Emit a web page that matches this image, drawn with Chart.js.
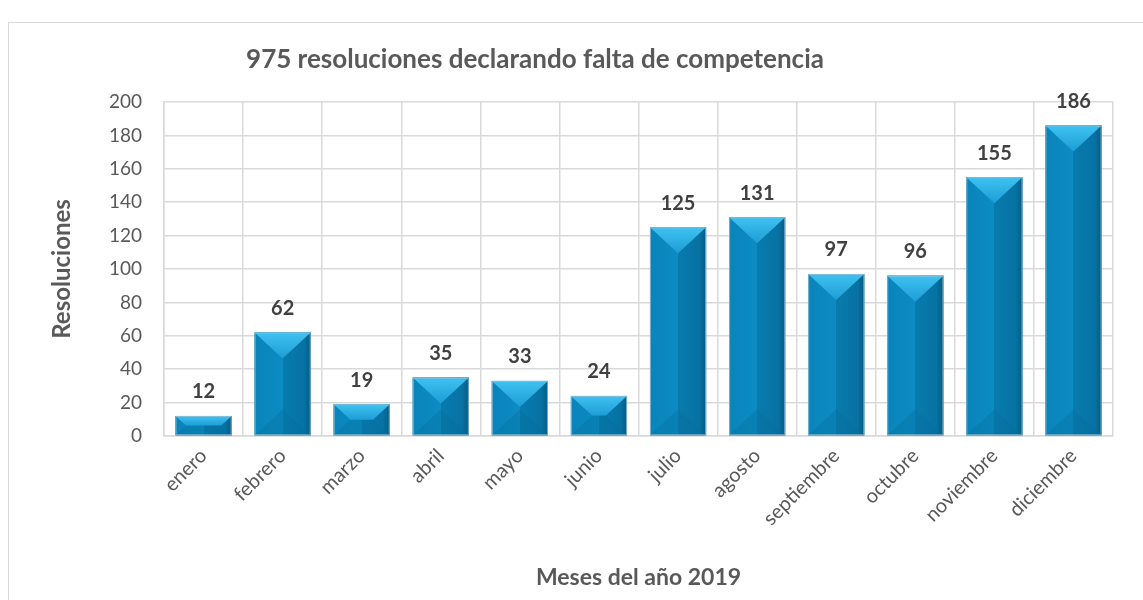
<!DOCTYPE html>
<html>
<head>
<meta charset="utf-8">
<script src="https://cdn.jsdelivr.net/npm/chart.js@4/dist/chart.umd.min.js"></script>
<style>
  html, body { margin: 0; padding: 0; background: #fff; overflow: hidden; }
  #frame { position: absolute; left: 8px; top: 22px; width: 1200px; height: 700px; border: 1px solid #d9d9d9; box-sizing: border-box; }
  #wrap { position: absolute; left: 0; top: 0; width: 1143px; height: 600px; }
</style>
</head>
<body>
<div id="frame"></div>
<div id="wrap"><canvas id="resoluciones"></canvas></div>
<script>
const meses = ['enero', 'febrero', 'marzo', 'abril', 'mayo', 'junio', 'julio', 'agosto', 'septiembre', 'octubre', 'noviembre', 'diciembre'];
const resoluciones = [12, 62, 19, 35, 33, 24, 125, 131, 97, 96, 155, 186];
const tituloGrafico = '975 resoluciones declarando falta de competencia';
const tituloX = 'Meses del año 2019';
const tituloY = 'Resoluciones';

const FONT = 'Lato, "Open Sans", sans-serif';
const GRAY = '#595959';
const GRID = '#d9d9d9';

// bevelled look for each bar, drawn on top of the plain bar
const bevelBars = {
    id: 'bevelBars',
    afterDatasetsDraw(chart) {
        const ctx = chart.ctx;
        chart.getDatasetMeta(0).data.forEach((bar) => {
            const p = bar.getProps(['x', 'y', 'base', 'width'], true);
            const L = p.x - p.width / 2, R = p.x + p.width / 2;
            const T = p.y, B = p.base;
            const h = B - T, w = R - L;
            const d = Math.min(26, h / 2);
            const dx = Math.min(w / 2, d * (w / 2) / 26);
            ctx.save();

            // left and right faces
            let g = ctx.createLinearGradient(L, 0, R, 0);
            g.addColorStop(0, '#0a84ba');
            g.addColorStop(0.5, '#0b8cc3');
            g.addColorStop(0.5, '#087bae');
            g.addColorStop(0.88, '#0772a3');
            g.addColorStop(1, '#055c83');
            ctx.fillStyle = g;
            ctx.fillRect(L, T, w, h);

            // bottom face
            ctx.beginPath();
            ctx.moveTo(L, B); ctx.lineTo(R, B);
            ctx.lineTo(R - dx, B - d); ctx.lineTo(L + dx, B - d);
            ctx.closePath();
            ctx.fillStyle = 'rgba(6, 110, 155, 0.35)';
            ctx.fill();

            // top face
            ctx.beginPath();
            ctx.moveTo(L, T); ctx.lineTo(R, T);
            ctx.lineTo(R - dx, T + d); ctx.lineTo(L + dx, T + d);
            ctx.closePath();
            g = ctx.createLinearGradient(0, T, 0, T + d);
            g.addColorStop(0, '#3fc2f2');
            g.addColorStop(1, '#1d9dd5');
            ctx.fillStyle = g;
            ctx.fill();

            ctx.strokeStyle = 'rgba(150, 190, 210, 0.8)';
            ctx.lineWidth = 1;
            ctx.strokeRect(L + 0.5, T + 0.5, w - 1, h - 1);
            ctx.restore();
        });
    }
};

// value labels and chart title
const labelsAndTitle = {
    id: 'labelsAndTitle',
    afterDraw(chart) {
        const ctx = chart.ctx;
        ctx.save();
        ctx.textAlign = 'center';
        ctx.textBaseline = 'middle';
        ctx.fillStyle = '#404040';
        ctx.font = 'bold 20px ' + FONT;
        chart.getDatasetMeta(0).data.forEach((bar, i) => {
            ctx.fillText(resoluciones[i], bar.x, bar.y - 24);
        });
        ctx.fillStyle = GRAY;
        ctx.font = 'bold 26px ' + FONT;
        ctx.fillText(tituloGrafico, 535, 60);
        ctx.restore();
    }
};

new Chart(document.getElementById('resoluciones'), {
    type: 'bar',
    data: {
        labels: meses,
        datasets: [{
            data: resoluciones,
            backgroundColor: '#0a84ba',
            categoryPercentage: 1,
            barPercentage: 0.71
        }]
    },
    options: {
        responsive: true,
        maintainAspectRatio: false,
        animation: false,
        layout: { padding: { top: 102, right: 30, left: 0, bottom: 0 } },
        plugins: {
            legend: { display: false },
            tooltip: { enabled: false }
        },
        scales: {
            x: {
                grid: { color: GRID, lineWidth: 1.5, drawTicks: false },
                border: { color: GRID, width: 1.5 },
                ticks: {
                    color: GRAY, font: { family: FONT, size: 20 },
                    minRotation: 45, maxRotation: 45, padding: 8
                },
                title: {
                    display: true, text: tituloX, color: GRAY,
                    font: { family: FONT, size: 23, weight: 'bold' },
                    padding: { top: 0, bottom: 9 }
                },
                afterFit: (s) => { s.height = 164; }
            },
            y: {
                min: 0, max: 200,
                grid: { color: GRID, lineWidth: 1.5, drawTicks: false },
                border: { color: GRID, width: 1.5 },
                ticks: {
                    stepSize: 20, color: GRAY, font: { family: FONT, size: 19 },
                    padding: 22
                },
                title: {
                    display: true, text: tituloY, color: GRAY,
                    font: { family: FONT, size: 24, weight: 'bold' },
                    padding: { top: 48, bottom: 0 }
                },
                afterFit: (s) => { s.width = 164; }
            }
        }
    },
    plugins: [bevelBars, labelsAndTitle]
});
</script>
</body>
</html>
